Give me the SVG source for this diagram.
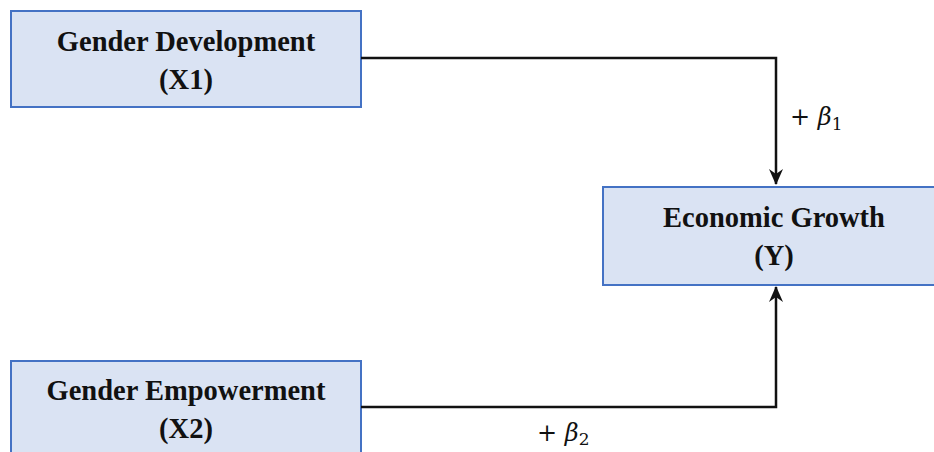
<svg xmlns="http://www.w3.org/2000/svg" width="934" height="452" viewBox="0 0 934 452">
<style>
.box{fill:#dae3f3;stroke:#4472c4;stroke-width:2}
.t{font-family:"Liberation Serif",serif;font-weight:bold;font-size:28.5px;fill:#111;text-anchor:middle}
.lbl{font-family:"DejaVu Serif","Liberation Serif",serif;font-size:24px;fill:#111}
.c{fill:none;stroke:#111;stroke-width:2.5}
</style>
<defs>
<marker id="ah" markerWidth="16" markerHeight="14" refX="15" refY="7" orient="auto" markerUnits="userSpaceOnUse" viewBox="0 0 16 14">
<path d="M0,0 L16,7 L0,14 L5,7 Z" fill="#111"/>
</marker>
</defs>
<rect width="934" height="452" fill="#fff"/>
<g id="x1">
<rect class="box" x="11" y="11" width="350" height="96"/>
<text class="t" x="186" y="51">Gender Development</text>
<text class="t" x="186" y="89">(X1)</text>
</g>
<g id="y">
<rect class="box" x="603" y="187" width="345" height="98"/>
<text class="t" x="774" y="227">Economic Growth</text>
<text class="t" x="774" y="265">(Y)</text>
</g>
<g id="x2">
<rect class="box" x="11" y="361" width="350" height="100"/>
<text class="t" x="186" y="400">Gender Empowerment</text>
<text class="t" x="186" y="438">(X2)</text>
</g>
<g id="connectors">
<path class="c" d="M361,58 H776 V184" marker-end="url(#ah)"/>
<path class="c" d="M361,407 H776 V287" marker-end="url(#ah)"/>
<text class="lbl" x="790" y="125">+ <tspan font-style="italic">β</tspan><tspan font-size="17" dy="5">1</tspan></text>
<text class="lbl" x="537" y="441">+ <tspan font-style="italic">β</tspan><tspan font-size="17" dy="4">2</tspan></text>
</g>
</svg>
